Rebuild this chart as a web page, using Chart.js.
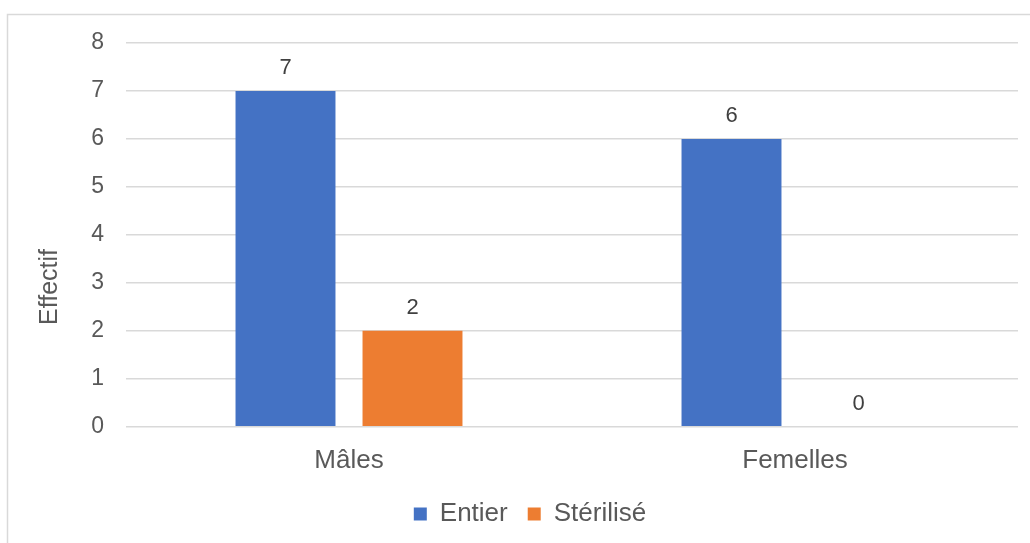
<!DOCTYPE html>
<html><head><meta charset="utf-8">
<script src="https://cdn.jsdelivr.net/npm/chart.js@4"></script>
<style>html,body{margin:0;padding:0;background:#fff;}#wrap{position:relative;width:1030px;height:543px;}</style>
</head><body><div id="wrap"><canvas id="c" width="1030" height="543"></canvas></div>
<script>
const categories = ["Mâles", "Femelles"];
const entier = [7, 6];
const sterilise = [2, 0];
const seriesNames = ["Entier", "Stérilisé"];
const yTicks = [0, 1, 2, 3, 4, 5, 6, 7, 8];
const yTitle = "Effectif";

const FONT = "'Liberation Sans', Arial, sans-serif";

const framePlugin = {
  id: 'frame',
  beforeDraw(chart) {
    const ctx = chart.ctx;
    ctx.save();
    ctx.fillStyle = '#fff';
    ctx.fillRect(0, 0, chart.width, chart.height);
    ctx.strokeStyle = '#d9d9d9';
    ctx.lineWidth = 1.5;
    ctx.strokeRect(7.5, 14.5, 1100, 700);
    ctx.restore();
  },
  afterDraw(chart) {
    const ctx = chart.ctx;
    ctx.save();
    ctx.font = '25px ' + FONT;
    ctx.fillStyle = '#595959';
    ctx.textAlign = 'center';
    ctx.textBaseline = 'middle';
    ctx.translate(50, 287);
    ctx.rotate(-Math.PI / 2);
    ctx.fillText(yTitle, 0, 0);
    ctx.restore();
  }
};
const labelPlugin = {
  id: 'vals',
  afterDatasetsDraw(chart) {
    const ctx = chart.ctx;
    ctx.save();
    ctx.font = '22px ' + FONT;
    ctx.fillStyle = '#404040';
    ctx.textAlign = 'center';
    ctx.textBaseline = 'middle';
    chart.data.datasets.forEach((ds, i) => {
      chart.getDatasetMeta(i).data.forEach((bar, j) => {
        ctx.fillText(String(ds.data[j]), bar.x, bar.y - 23);
      });
    });
    ctx.restore();
  }
};

new Chart(document.getElementById('c'), {
  type: 'bar',
  data: {
    labels: categories,
    datasets: [
      { label: seriesNames[0], data: entier, backgroundColor: '#4472C4' },
      { label: seriesNames[1], data: sterilise, backgroundColor: '#ED7D31' }
    ]
  },
  options: {
    responsive: false,
    animation: false,
    devicePixelRatio: 1,
    datasets: { bar: { categoryPercentage: 0.5695, barPercentage: 0.787 } },
    layout: { padding: { left: 42, right: 12, top: 43, bottom: 6 } },
    plugins: {
      tooltip: { enabled: false },
      legend: {
        position: 'bottom',
        labels: {
          font: { family: FONT, size: 26 },
          color: '#595959',
          boxWidth: 13, boxHeight: 13,
          padding: 20
        }
      }
    },
    scales: {
      x: {
        grid: { display: false, drawTicks: false },
        border: { display: false },
        afterFit(scale) { scale.height = scale.height - 13; },
        ticks: { font: { family: FONT, size: 26 }, color: '#595959', padding: 18 }
      },
      y: {
        min: 0, max: 8,
        afterBuildTicks(scale) { scale.ticks = yTicks.map(v => ({ value: v })); },
        afterFit(scale) { scale.width = 84; },
        grid: { color: '#d9d9d9', lineWidth: 1.5, drawTicks: false },
        border: { display: false },
        ticks: { font: { family: FONT, size: 23 }, color: '#595959', padding: 22 }
      }
    }
  },
  plugins: [framePlugin, labelPlugin]
});
</script></body></html>
